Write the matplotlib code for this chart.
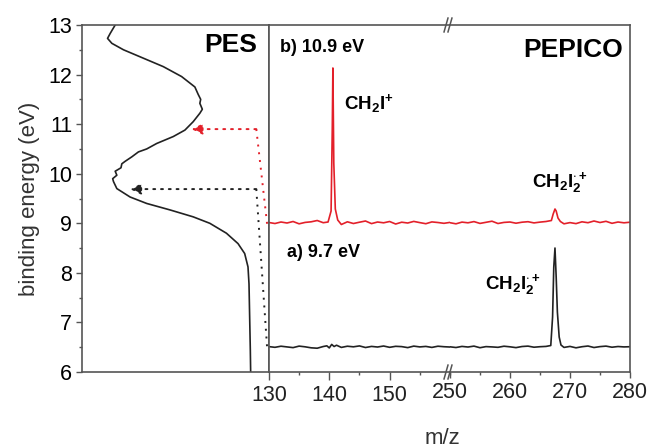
import numpy as np
import matplotlib
matplotlib.use("Agg")
import matplotlib.pyplot as plt
from matplotlib.ticker import MultipleLocator

plt.rcParams['font.family'] = ['Liberation Sans', 'DejaVu Sans']
plt.rcParams['mathtext.fontset'] = 'custom'
plt.rcParams['mathtext.rm'] = 'Liberation Sans'
plt.rcParams['mathtext.bf'] = 'Liberation Sans:bold'
plt.rcParams['mathtext.it'] = 'Liberation Sans:italic'

# PES spectrum: binding energy (eV) vs intensity (arb.)
pes_energy = [13.0, 12.83, 12.73, 12.63, 12.5, 12.33, 12.16, 11.96, 11.75, 11.6,
              11.5, 11.42, 11.3, 11.22, 11.05, 10.88, 10.75, 10.61, 10.5, 10.44,
              10.34, 10.25, 10.2, 10.12, 10.05, 9.97, 9.9, 9.84, 9.70, 9.53,
              9.4, 9.27, 9.13, 9.0, 8.8, 8.59, 8.39, 8.12, 7.78, 7.11, 6.44, 6.0]
pes_intensity = [83, 86, 87.6, 85, 78, 66, 54, 43, 35, 33,
                 31.5, 32, 30.5, 32, 36, 41, 48, 58, 64, 69,
                 73, 77, 79, 79.5, 83, 82, 84.5, 84, 82, 74,
                 64, 50, 36, 26, 16, 9, 5, 3, 2.4, 2, 1.6, 1.4]

# PEPICO spectra, low m/z segment (130-160) and high segment (250-280)
red_mz_lo = [130, 131, 132, 133, 134, 135, 136, 137, 138, 139, 139.8, 140.3, 140.5,
             140.6, 140.75, 141.0, 141.4, 142, 143, 144, 145, 146, 147, 148, 149,
             150, 151, 152, 153, 154, 155, 156, 157, 158, 159, 160]
red_int_lo = [0.5, -0.5, 1.0, 0.0, 1.5, -0.8, 0.6, 1.2, 2.5, 0.3, 1.0, 12, 95,
              155, 60, 14, 3, -1.5, 1.2, -0.5, 0.8, 2.0, -0.6, 1.0, 0.2,
              1.5, -1.0, 0.8, 0.0, 1.6, 0.4, -0.7, 1.1, 0.5, -0.3, 0.6]
red_mz_hi = [250, 251, 252, 253, 254, 255, 256, 257, 258, 259, 260, 261, 262, 263,
             264, 265, 266, 266.9, 267.2, 267.5, 267.7, 268.0, 268.4, 269, 270,
             271, 272, 273, 274, 275, 276, 277, 278, 279, 280]
red_int_hi = [0.3, -0.8, 0.9, 0.2, 1.4, -0.4, 0.7, 1.8, -0.5, 0.6, 1.0, -0.2, 0.8,
              1.3, 0.1, 0.9, 1.5, 2.5, 9, 14, 12, 5, 1.5, -0.8, 0.4,
              -0.6, 1.2, 0.3, 2.0, 0.5, 1.7, -0.3, 1.0, 0.2, 0.8]
blk_mz_lo = [130, 131, 132, 133, 134, 135, 136, 137, 138, 139, 139.6, 140, 140.4,
             140.8, 141.2, 142, 143, 144, 145, 146, 147, 148, 149, 150, 151, 152,
             153, 154, 155, 156, 157, 158, 159, 160]
blk_int_lo = [0.4, -0.3, 0.8, 0.1, -0.6, 0.9, 0.2, -0.8, -1.2, 0.5, 1.2, -0.9, 2.6,
              0.5, 1.8, -0.4, 0.8, 0.2, 1.1, -0.5, 0.6, 0.0, 1.0, -0.3, 0.7, 0.4,
              -0.6, 0.9, 0.1, 0.6, -0.4, 0.8, 0.3, 0.0]
blk_mz_hi = [250, 251, 252, 253, 254, 255, 256, 257, 258, 259, 260, 261, 262, 263,
             264, 265, 266, 266.8, 267.1, 267.3, 267.5, 267.7, 267.9, 268.2, 268.5,
             269, 270, 271, 272, 273, 274, 275, 276, 277, 278, 279, 280]
blk_int_hi = [0.2, -0.5, 0.6, 0.0, 0.9, -0.7, 0.4, 0.1, -0.3, 0.8, 0.2, -0.6, 0.5,
              0.9, -0.2, 0.3, 0.6, 1.5, 30, 80, 99, 70, 35, 10, 2,
              -0.4, 0.6, -0.8, 0.3, 1.0, -0.5, 0.4, 0.9, -0.2, 0.5, 0.1, 0.3]

red = '#e3202a'
dark = '#222222'
spine_col = '#555555'
fs = 15.5

fig = plt.figure(figsize=(6.48, 4.48), dpi=100)
ax_pes = fig.add_axes([0.1265, 0.1696, 0.2885, 0.7746])
ax_lo = fig.add_axes([0.415, 0.1696, 0.2794, 0.7746])
ax_hi = fig.add_axes([0.6944, 0.1696, 0.2778, 0.7746])

for a in (ax_pes, ax_lo, ax_hi):
    for s in a.spines.values():
        s.set_color(spine_col)
        s.set_linewidth(1.2)

# PES panel
ax_pes.plot(pes_intensity, pes_energy, color=dark, lw=1.2)
ax_pes.set_xlim(103, -9.6)
ax_pes.set_ylim(6, 13)
ax_pes.yaxis.set_major_locator(MultipleLocator(1))
ax_pes.yaxis.set_minor_locator(MultipleLocator(0.5))
ax_pes.tick_params(axis='y', which='major', length=4, width=1, color=spine_col,
                   labelsize=fs, pad=3)
ax_pes.tick_params(axis='y', which='minor', length=2, width=1, color=spine_col)
ax_pes.set_xticks([])
ax_pes.set_ylabel('binding energy (eV)', fontsize=16, labelpad=6, color='#333333')
ax_pes.text(0.936, 0.942, 'PES', transform=ax_pes.transAxes, ha='right', va='center',
            fontsize=19, fontweight='bold')

# dotted arrows from the photon energies
dot = (0, (1, 3))
ax_pes.annotate('', xy=(37, 10.9), xytext=(-2, 10.9),
                arrowprops=dict(arrowstyle='-|>', color=red, lw=1.4, ls=dot,
                                mutation_scale=16, shrinkA=0, shrinkB=0))
ax_pes.plot([-2, -8.5], [10.9, 8.99], color=red, lw=1.4, ls=dot, clip_on=False)
ax_pes.annotate('', xy=(74, 9.69), xytext=(-2, 9.69),
                arrowprops=dict(arrowstyle='-|>', color=dark, lw=1.4, ls=dot,
                                mutation_scale=16, shrinkA=0, shrinkB=0))
ax_pes.plot([-2, -8.5], [9.69, 6.5], color=dark, lw=1.4, ls=dot, clip_on=False)

# PEPICO panels
red_off = 149
blk_off = 25
ax_lo.plot(red_mz_lo, np.array(red_int_lo) + red_off, color=red, lw=1.2)
ax_lo.plot(blk_mz_lo, np.array(blk_int_lo) + blk_off, color=dark, lw=1.2)
ax_hi.plot(red_mz_hi, np.array(red_int_hi) + red_off, color=red, lw=1.2)
ax_hi.plot(blk_mz_hi, np.array(blk_int_hi) + blk_off, color=dark, lw=1.2)

for a, lim, ticks in ((ax_lo, (130, 160), [130, 140, 150]),
                      (ax_hi, (250, 280), [250, 260, 270, 280])):
    a.set_xlim(*lim)
    a.set_ylim(0, 347)
    a.set_yticks([])
    a.set_xticks(ticks)
    a.xaxis.set_minor_locator(MultipleLocator(5))
    a.tick_params(axis='x', which='major', length=4, width=1, color=spine_col,
                  labelsize=fs, pad=3, labelcolor='#222222')
    a.tick_params(axis='x', which='minor', length=2, width=1, color=spine_col)
ax_lo.spines['right'].set_visible(False)
ax_hi.spines['left'].set_visible(False)
ax_lo.tick_params(axis='x', which='major', length=6)

# break marks "//"
for yb in (0, 1):
    for xc in (-0.022, 0.0):
        ax_hi.plot([xc - 0.011, xc + 0.011], [yb - 0.02, yb + 0.02],
                   transform=ax_hi.transAxes, color=spine_col, lw=1.1, clip_on=False)

ax_lo.text(131.9, 324, 'b) 10.9 eV', fontsize=13, fontweight='bold', va='center')
ax_lo.text(133.0, 120, 'a) 9.7 eV', fontsize=13, fontweight='bold', va='center')
ax_lo.text(142.5, 269, r'$\mathbf{CH_{2}I^{+}}$', fontsize=13.5, va='center')
ax_hi.text(263.7, 190, r'$\mathbf{CH_{2}I_{2}^{\cdot+}}$', fontsize=13.5, va='center')
ax_hi.text(255.8, 88, r'$\mathbf{CH_{2}I_{2}^{\cdot+}}$', fontsize=13.5, va='center')
ax_hi.text(278.8, 322, 'PEPICO', fontsize=19, fontweight='bold', ha='right', va='center')

fig.text(0.683, 0.022, 'm/z', fontsize=16, ha='center', va='center', color='#333333')

fig.savefig('out.png', dpi=100)
